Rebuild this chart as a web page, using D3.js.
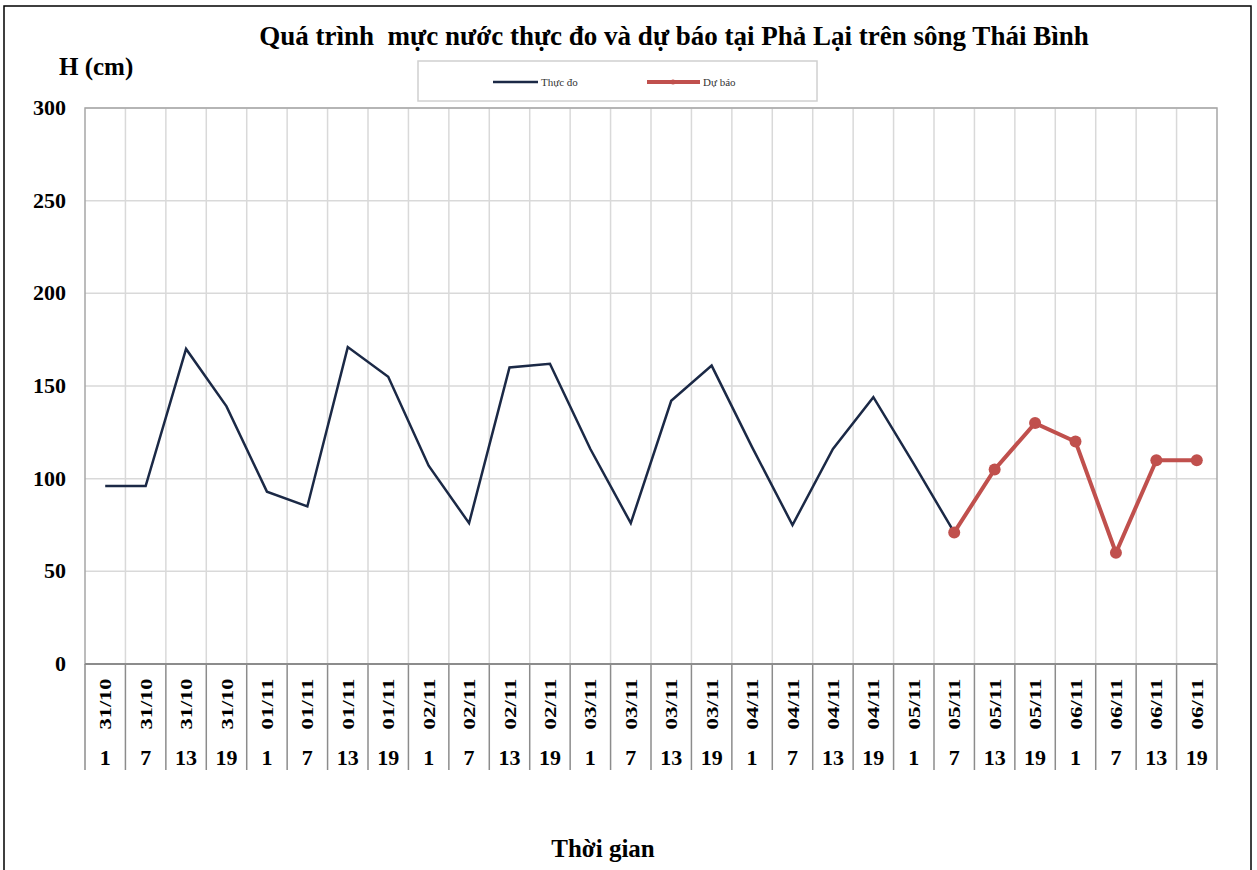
<!DOCTYPE html>
<html>
<head>
<meta charset="utf-8">
<script src="https://cdn.jsdelivr.net/npm/d3@7"></script>
<style>
  body { margin: 0; background: #fff; }
  svg { display: block; }
</style>
</head>
<body>
<div id="chart"></div>
<script>
// time labels (day / hour)
const days = ['31/10','31/10','31/10','31/10','01/11','01/11','01/11','01/11',
  '02/11','02/11','02/11','02/11','03/11','03/11','03/11','03/11',
  '04/11','04/11','04/11','04/11','05/11','05/11','05/11','05/11',
  '06/11','06/11','06/11','06/11'];
const hours = ['1','7','13','19','1','7','13','19','1','7','13','19','1','7','13','19',
  '1','7','13','19','1','7','13','19','1','7','13','19'];

// water level (cm), null = no value
const observed = [96, 96, 170, 139, 93, 85, 171, 155, 107, 76, 160, 162, 116, 76, 142, 161,
  117, 75, 116, 144, 108, 71, null, null, null, null, null, null];
const forecast = [null, null, null, null, null, null, null, null, null, null, null, null,
  null, null, null, null, null, null, null, null, null, 71, 105, 130, 120, 60, 110, 110];

const yTicks = [0, 50, 100, 150, 200, 250, 300];

const W = 1257, H = 870;
const margin = { left: 85, right: 40, top: 108, bottom: 206 };
const serif = "'Liberation Serif', 'Times New Roman', serif";

const svg = d3.select('#chart').append('svg')
  .attr('width', W)
  .attr('height', H);

// outer frame
svg.append('rect')
  .attr('x', 4).attr('y', 6)
  .attr('width', 1247).attr('height', 870)
  .attr('fill', 'white')
  .attr('stroke', '#000')
  .attr('stroke-width', 1.5);

const idx = d3.range(days.length);
const x = d3.scaleBand()
  .domain(idx)
  .range([margin.left, W - margin.right])
  .padding(0);
const y = d3.scaleLinear()
  .domain([0, 300])
  .range([H - margin.bottom, margin.top]);

const plotL = margin.left, plotR = W - margin.right;
const plotT = margin.top, plotB = H - margin.bottom;

// grid
const grid = svg.append('g');
grid.selectAll('line.h')
  .data(yTicks)
  .join('line')
  .attr('x1', plotL).attr('x2', plotR)
  .attr('y1', d => y(d)).attr('y2', d => y(d))
  .attr('stroke', '#d9d9d9')
  .attr('stroke-width', 1.5);
grid.selectAll('line.v')
  .data(idx.slice(1))
  .join('line')
  .attr('x1', d => x(d)).attr('x2', d => x(d))
  .attr('y1', plotT).attr('y2', plotB)
  .attr('stroke', '#d9d9d9')
  .attr('stroke-width', 1.5);

// plot border
svg.append('rect')
  .attr('x', plotL).attr('y', plotT)
  .attr('width', plotR - plotL).attr('height', plotB - plotT)
  .attr('fill', 'none')
  .attr('stroke', '#a6a6a6')
  .attr('stroke-width', 1.5);

// category axis area below the plot
const axisB = plotB + 106;
svg.append('line')
  .attr('x1', plotL).attr('x2', plotR)
  .attr('y1', plotB).attr('y2', plotB)
  .attr('stroke', '#8c8c8c').attr('stroke-width', 2);
svg.append('g')
  .selectAll('line')
  .data(idx.concat([days.length]))
  .join('line')
  .attr('x1', d => d < days.length ? x(d) : plotR)
  .attr('x2', d => d < days.length ? x(d) : plotR)
  .attr('y1', plotB).attr('y2', axisB)
  .attr('stroke', '#8c8c8c')
  .attr('stroke-width', 1.5);

const cx = d => x(d) + x.bandwidth() / 2;

svg.append('g')
  .selectAll('text')
  .data(idx)
  .join('text')
  .attr('transform', d => `translate(${cx(d) + 6},${plotB + 40}) rotate(-90)`)
  .attr('text-anchor', 'middle')
  .attr('textLength', 51)
  .attr('lengthAdjust', 'spacingAndGlyphs')
  .style('font-family', serif)
  .style('font-weight', 'bold')
  .style('font-size', '17px')
  .text(d => days[d]);

svg.append('g')
  .selectAll('text')
  .data(idx)
  .join('text')
  .attr('x', d => cx(d))
  .attr('y', plotB + 101)
  .attr('text-anchor', 'middle')
  .style('font-family', serif)
  .style('font-weight', 'bold')
  .style('font-size', '22px')
  .text(d => hours[d]);

// y tick labels
svg.append('g')
  .selectAll('text')
  .data(yTicks)
  .join('text')
  .attr('x', 66)
  .attr('y', d => y(d) + 7)
  .attr('text-anchor', 'end')
  .style('font-family', serif)
  .style('font-weight', 'bold')
  .style('font-size', '22px')
  .text(d => d);

// lines
const line = d3.line()
  .defined(d => d[1] != null)
  .x(d => cx(d[0]))
  .y(d => y(d[1]));

svg.append('path')
  .datum(observed.map((v, i) => [i, v]))
  .attr('d', line)
  .attr('fill', 'none')
  .attr('stroke', '#1b2946')
  .attr('stroke-width', 2.5)
  .attr('stroke-linejoin', 'miter');

const fc = forecast.map((v, i) => [i, v]);
svg.append('path')
  .datum(fc)
  .attr('d', line)
  .attr('fill', 'none')
  .attr('stroke', '#c0504d')
  .attr('stroke-width', 4);

svg.append('g')
  .selectAll('circle')
  .data(fc.filter(d => d[1] != null))
  .join('circle')
  .attr('cx', d => cx(d[0]))
  .attr('cy', d => y(d[1]))
  .attr('r', 6)
  .attr('fill', '#c0504d');

// title
svg.append('text')
  .attr('x', 674).attr('y', 45)
  .attr('text-anchor', 'middle')
  .attr('xml:space', 'preserve')
  .style('white-space', 'pre')
  .style('font-family', serif)
  .style('font-weight', 'bold')
  .style('font-size', '27px')
  .text('Quá trình  mực nước thực đo và dự báo tại Phả Lại trên sông Thái Bình');

// y axis title
svg.append('text')
  .attr('x', 59).attr('y', 75)
  .style('font-family', serif)
  .style('font-weight', 'bold')
  .style('font-size', '25px')
  .text('H (cm)');

// x axis title
svg.append('text')
  .attr('x', 603).attr('y', 857)
  .attr('text-anchor', 'middle')
  .style('font-family', serif)
  .style('font-weight', 'bold')
  .style('font-size', '25px')
  .text('Thời gian');

// legend
const lg = svg.append('g');
lg.append('rect')
  .attr('x', 418).attr('y', 61)
  .attr('width', 399).attr('height', 40)
  .attr('fill', 'white')
  .attr('stroke', '#d0d0d0')
  .attr('stroke-width', 1.5);
lg.append('line')
  .attr('x1', 493).attr('x2', 538).attr('y1', 82).attr('y2', 82)
  .attr('stroke', '#1b2946').attr('stroke-width', 2.5);
lg.append('text')
  .attr('x', 541).attr('y', 86)
  .style('font-family', serif)
  .style('font-size', '11px')
  .style('fill', '#333')
  .text('Thực đo');
lg.append('line')
  .attr('x1', 647).attr('x2', 700).attr('y1', 82).attr('y2', 82)
  .attr('stroke', '#c0504d').attr('stroke-width', 4);
lg.append('circle')
  .attr('cx', 673).attr('cy', 82).attr('r', 2.5)
  .attr('fill', '#c0504d');
lg.append('text')
  .attr('x', 703).attr('y', 86)
  .style('font-family', serif)
  .style('font-size', '11px')
  .style('fill', '#333')
  .text('Dự báo');
</script>
</body>
</html>
